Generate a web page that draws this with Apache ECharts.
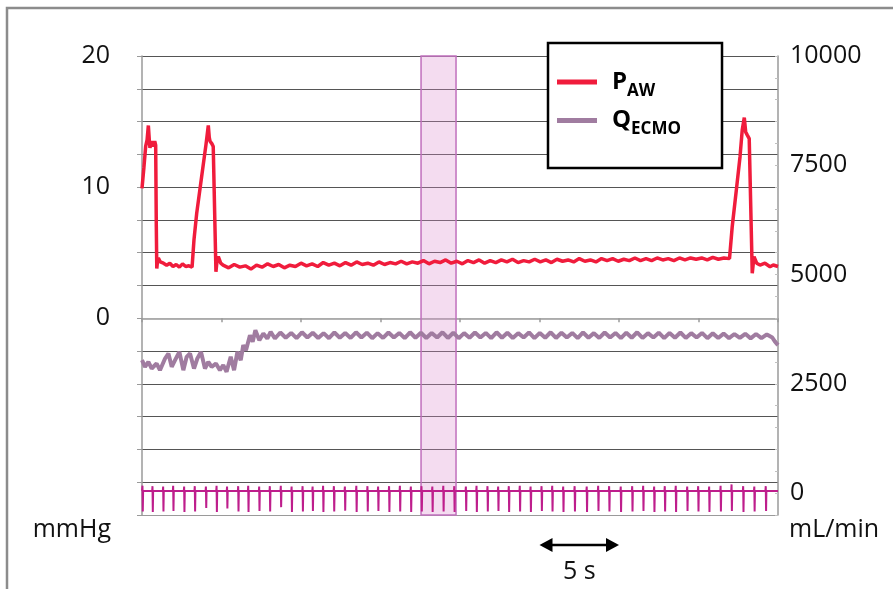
<!DOCTYPE html>
<html><head><meta charset="utf-8">
<script src="https://cdn.jsdelivr.net/npm/echarts@6/dist/echarts.min.js"></script>
<style>html,body{margin:0;padding:0;background:#fff}#c{width:893px;height:589px}</style>
</head><body><div id="c"></div>
<script>
// ---- data (time in s) ----
const leftTickLabels = ['20', '10', '0'];
const rightTickLabels = ['10000', '7500', '5000', '2500', '0'];
const highlightSpan = [17.55, 19.75];
const scaleBar = [25, 30];

// Airway pressure, mmHg
const paw = [[0,9.9],[0.12,11.5],[0.23,13.1],[0.32,13.6],[0.40,14.7],[0.47,13.4],[0.50,13.0],[0.61,13.5],[0.71,13.1],[0.80,13.5],[0.86,13.2],[0.90,7.0],[0.93,3.8],[0.98,4.4],[1.03,4.6],[1.15,4.3],[1.35,4.2],[1.55,4.05],[1.75,4.2],[1.95,3.95],[2.15,4.1],[2.35,3.9],[2.55,4.15],[2.75,3.95],[2.95,4.0],[3.15,3.9],[3.23,4.0],[3.27,6.0],[3.44,8.0],[3.75,10.8],[4.03,13.3],[4.17,14.7],[4.23,13.8],[4.28,13.5],[4.40,13.3],[4.48,13.1],[4.59,13.0],[4.65,3.55],[4.72,4.4],[4.80,4.7],[4.95,4.2],
[5.10,4.05],[5.45,3.85],[5.80,4.10],[6.15,3.90],[6.50,4.00],[6.85,3.75],[7.20,4.05],[7.55,3.90],[7.90,4.15],[8.25,3.95],[8.60,4.10],[8.95,3.85],[9.30,4.05],[9.65,3.95],[10.00,4.20],[10.35,4.00],[10.70,4.15],[11.05,3.95],[11.40,4.25],[11.75,4.05],[12.10,4.20],[12.45,4.00],[12.80,4.25],[13.15,4.05],[13.50,4.30],[13.85,4.10],[14.20,4.20],[14.55,4.05],[14.90,4.30],[15.25,4.10],[15.60,4.25],[15.95,4.15],[16.30,4.35],[16.65,4.15],[17.00,4.30],[17.35,4.20],[17.70,4.40],[18.05,4.15],[18.40,4.35],[18.75,4.25],[19.10,4.45],[19.45,4.20],[19.80,4.35],[20.15,4.15],[20.50,4.40],[20.85,4.25],[21.20,4.45],[21.55,4.20],[21.90,4.40],[22.25,4.25],[22.60,4.45],[22.95,4.30],[23.30,4.50],[23.65,4.25],[24.00,4.40],[24.35,4.30],[24.70,4.50],[25.05,4.30],[25.40,4.45],[25.75,4.25],[26.10,4.50],[26.45,4.35],[26.80,4.45],[27.15,4.30],[27.50,4.55],[27.85,4.35],[28.20,4.45],[28.55,4.30],[28.90,4.55],[29.25,4.40],[29.60,4.55],[29.95,4.35],[30.30,4.50],[30.65,4.40],[31.00,4.60],[31.35,4.40],[31.70,4.55],[32.05,4.40],[32.40,4.60],[32.75,4.45],[33.10,4.55],[33.45,4.40],[33.80,4.60],[34.15,4.45],[34.50,4.60],[34.85,4.50],[35.20,4.60],[35.55,4.45],[35.90,4.65],[36.25,4.50],[36.60,4.60],[36.95,4.55],[37.02,4.6],
[37.12,6.98],[37.40,10.0],[37.61,12.3],[37.75,14.35],[37.88,15.3],[37.97,14.2],[38.07,13.97],[38.19,13.7],[38.28,13.6],[38.38,3.43],[38.49,4.7],[38.66,4.2],[38.87,4.06],[39.18,4.2],[39.50,3.93],[39.70,4.06],[40,3.95]];

// ECMO flow, mL/min
const qecmo = [[0,3042],[0.19,2890],[0.40,3004],[0.61,2851],[0.92,2965],[1.13,2813],[1.45,3080],[1.66,3194],[1.87,2890],[2.08,3042],[2.35,3232],[2.60,2813],[2.81,3118],[3.02,3194],[3.27,2851],[3.48,3080],[3.71,3232],[3.96,2851],[4.17,3004],[4.38,2890],[4.65,2965],[4.90,2813],[5.11,2927],[5.32,2775],[5.58,3118],[5.79,2813],[6.00,3232],[6.21,3042],[6.37,3385],[6.54,3270],[6.79,3613],[6.96,3461],[7.13,3728],[7.38,3499],[7.63,3652],[7.88,3537],[8.09,3690],[8.36,3537],
[8.70,3675],[9.04,3555],[9.38,3665],[9.72,3545],[10.06,3680],[10.40,3560],[10.74,3670],[11.08,3550],[11.42,3660],[11.76,3545],[12.10,3675],[12.44,3555],[12.78,3665],[13.12,3550],[13.46,3680],[13.80,3560],[14.14,3670],[14.48,3545],[14.82,3660],[15.16,3550],[15.50,3675],[15.84,3560],[16.18,3665],[16.52,3545],[16.86,3680],[17.20,3555],[17.54,3670],[17.88,3550],[18.22,3665],[18.56,3560],[18.90,3680],[19.24,3550],[19.58,3670],[19.92,3545],[20.26,3660],[20.60,3555],[20.94,3675],[21.28,3560],[21.62,3665],[21.96,3545],[22.30,3680],[22.64,3555],[22.98,3670],[23.32,3550],[23.66,3660],[24.00,3560],[24.34,3675],[24.68,3545],[25.02,3665],[25.36,3555],[25.70,3680],[26.04,3550],[26.38,3670],[26.72,3560],[27.06,3665],[27.40,3545],[27.74,3675],[28.08,3555],[28.42,3660],[28.76,3550],[29.10,3675],[29.44,3560],[29.78,3665],[30.12,3545],[30.46,3670],[30.80,3555],[31.14,3680],[31.48,3550],[31.82,3660],[32.16,3560],[32.50,3670],[32.84,3545],[33.18,3665],[33.52,3555],[33.86,3675],[34.20,3550],[34.54,3660],[34.88,3560],[35.22,3665],[35.56,3545],[35.90,3655],[36.24,3550],[36.58,3650],[36.92,3545],[37.26,3640],[37.60,3550],[37.94,3645],[38.28,3540],[38.62,3640],[38.96,3545],[39.30,3630],[39.64,3560],[39.80,3470],[40.00,3385]];

// ECG-like trace at the bottom (right axis units): beat times, R peaks, S troughs, baseline
const ecgBeats = [0.04,0.67,1.34,1.97,2.66,3.33,4.03,4.70,5.36,6.06,6.69,7.38,8.05,8.74,9.42,10.11,10.74,11.40,12.08,12.77,13.49,14.19,14.86,15.55,16.23,16.92,17.59,18.27,18.96,19.65,20.38,21.05,21.74,22.41,23.08,23.77,24.45,25.14,25.81,26.50,27.22,27.98,28.70,29.39,30.12,30.84,31.53,32.22,32.89,33.58,34.30,34.99,35.68,36.40,37.09,37.82,38.52,39.24];
const ecgPeaks = [170,160,150,170,150,160,150,170,150,160,170,150,160,170,150,160,150,170,160,150,170,160,150,160,170,150,160,150,170,160,150,170,160,150,160,170,150,160,170,150,160,150,170,160,150,160,170,150,160,170,150,160,150,170,200,160,150,160];
const ecgTroughs = [-420,-430,-420,-410,-430,-420,-340,-430,-350,-420,-430,-410,-420,-320,-430,-420,-410,-430,-420,-400,-430,-420,-410,-430,-420,-430,-420,-430,-420,-430,-410,-430,-420,-410,-430,-420,-430,-410,-420,-430,-420,-430,-410,-420,-430,-420,-410,-430,-420,-430,-410,-420,-430,-420,-410,-430,-420,-410];
const ecgBase = 50;

// ---- build ECG points from read beats ----
const ecg = [[0, ecgBase]];
ecgBeats.forEach((t, i) => {
  ecg.push([t - 0.03, ecgBase], [t - 0.01, ecgPeaks[i]], [t + 0.01, ecgTroughs[i]], [t + 0.03, ecgBase]);
});
ecg.push([40, ecgBase]);

const FONT = 'Open Sans';
const gridColors = [];
for (let i = 0; i < 15; i++) gridColors.push(i === 0 ? '#9a9a9a' : (i === 6 ? '#dcdcdc' : '#555555'));

const chart = echarts.init(document.getElementById('c'), null, {renderer: 'canvas'});
chart.setOption({
  animation: false,
  backgroundColor: '#fff',
  grid: {left: 142, right: 115, top: 56, bottom: 74, containLabel: false, outerBoundsMode: 'none'},
  legend: {
    data: ['PAW', 'QECMO'],
    orient: 'vertical',
    left: 548, top: 43,
    padding: [27, 41, 30, 9],
    itemWidth: 40, itemHeight: 5, itemGap: 9,
    icon: 'rect',
    selectedMode: false,
    backgroundColor: '#fff',
    borderColor: '#000', borderWidth: 2.5, borderRadius: 0,
    formatter: n => n === 'PAW' ? '{m|P}{s|AW}' : '{m|Q}{s|ECMO}',
    textStyle: {
      color: '#000',
      rich: {
        m: {fontFamily: FONT, fontSize: 24, fontWeight: 'bold', color: '#000', padding: [0, 0, 0, 10]},
        s: {fontFamily: FONT, fontSize: 17, fontWeight: 'bold', color: '#000', padding: [18, 0, 0, 0]}
      }
    }
  },
  xAxis: {
    type: 'value', min: 0, max: 40, interval: 5,
    axisLine: {show: true, lineStyle: {color: '#9a9a9a', width: 1.5}},
    axisTick: {show: true, length: 4, lineStyle: {color: '#9a9a9a', width: 1.5}},
    axisLabel: {show: false},
    splitLine: {show: false}
  },
  yAxis: [{
    type: 'value', position: 'left', min: -15, max: 20, interval: 2.5,
    axisLine: {show: true, lineStyle: {color: '#9a9a9a', width: 1.5}},
    axisTick: {show: true, length: 5, lineStyle: {color: '#9a9a9a'}},
    axisLabel: {
      margin: 32, fontFamily: FONT, fontSize: 25, color: '#111',
      formatter: v => leftTickLabels.includes(String(v)) ? String(v) : ''
    },
    splitLine: {show: true, lineStyle: {color: gridColors, width: 1}}
  }, {
    type: 'value', position: 'right', min: -500, max: 10000, interval: 500,
    axisLine: {show: true, lineStyle: {color: '#9a9a9a', width: 1.5}},
    axisTick: {show: true, inside: true, length: 3, lineStyle: {color: '#c0c0c0'}},
    axisLabel: {
      margin: 12, fontFamily: FONT, fontSize: 25, color: '#111',
      formatter: v => rightTickLabels.includes(String(v)) ? String(v) : ''
    },
    splitLine: {show: false}
  }],
  series: [{
    name: 'PAW', type: 'line', yAxisIndex: 0, data: paw,
    symbol: 'none', color: '#f01c3c',
    lineStyle: {color: '#f01c3c', width: 3.5},
    z: 4
  }, {
    name: 'QECMO', type: 'line', yAxisIndex: 1, data: qecmo,
    symbol: 'none', color: '#a07ca0',
    lineStyle: {color: '#a07ca0', width: 4},
    z: 3
  }, {
    name: 'ECG', type: 'line', yAxisIndex: 1, data: ecg,
    symbol: 'none', color: '#be1e8c',
    lineStyle: {color: '#be1e8c', width: 2},
    z: 3,
    markArea: {
      silent: true,
      itemStyle: {color: 'rgba(218,138,205,0.3)', borderColor: '#c070bd', borderWidth: 1.5},
      data: [[{xAxis: highlightSpan[0]}, {xAxis: highlightSpan[1]}]]
    }
  }]
});

// scale bar under the x axis and outer frame
const xa = chart.convertToPixel({xAxisIndex: 0}, scaleBar[0]);
const xb = chart.convertToPixel({xAxisIndex: 0}, scaleBar[1]);
const ay = 545;
chart.setOption({
  graphic: [
    {type: 'rect', shape: {x: 7, y: 8, width: 1000, height: 1000}, style: {fill: 'none', stroke: '#8c8c8c', lineWidth: 2.5}, silent: true},
    {type: 'line', shape: {x1: xa + 8, y1: ay, x2: xb - 8, y2: ay}, style: {stroke: '#000', lineWidth: 2.5}},
    {type: 'polygon', shape: {points: [[xa, ay], [xa + 13, ay - 7], [xa + 13, ay + 7]]}, style: {fill: '#000'}},
    {type: 'polygon', shape: {points: [[xb, ay], [xb - 13, ay - 7], [xb - 13, ay + 7]]}, style: {fill: '#000'}},
    {type: 'text', x: (xa + xb) / 2, y: 572, style: {text: '5 s', font: '25px "Open Sans"', fill: '#111', textAlign: 'center', textVerticalAlign: 'middle'}},
    {type: 'text', x: 111, y: 530, style: {text: 'mmHg', font: '25px "Open Sans"', fill: '#111', textAlign: 'right', textVerticalAlign: 'middle'}},
    {type: 'text', x: 789, y: 530, style: {text: 'mL/min', font: '25px "Open Sans"', fill: '#111', textAlign: 'left', textVerticalAlign: 'middle'}}
  ]
});
</script></body></html>
